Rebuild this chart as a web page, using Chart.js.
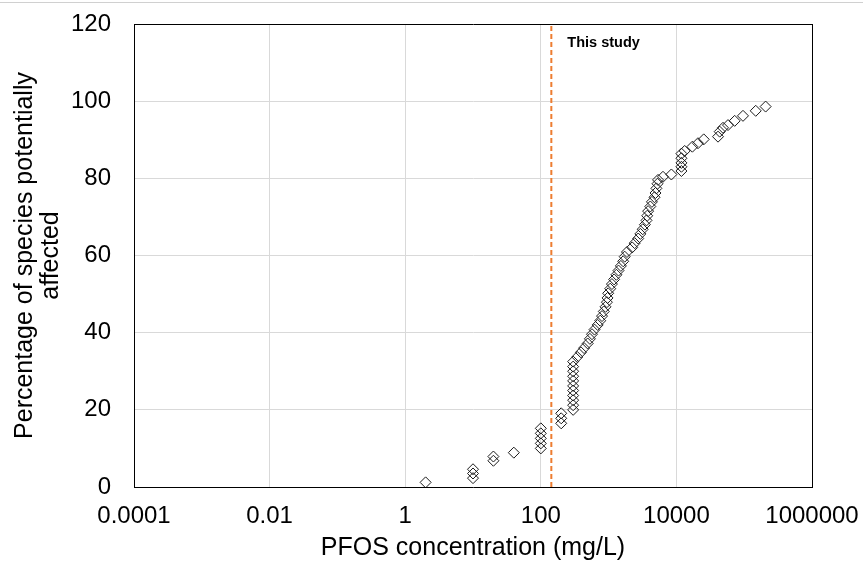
<!DOCTYPE html>
<html>
<head>
<meta charset="utf-8">
<script src="https://cdn.jsdelivr.net/npm/chart.js@4/dist/chart.umd.min.js"></script>
<style>
  html, body { margin: 0; padding: 0; background: #fff; }
  #wrap { position: relative; width: 863px; height: 563px; overflow: hidden; }
  #topline { position: absolute; left: 0; top: 2px; width: 863px; height: 1px; background: #d0d0d0; }
  canvas { position: absolute; left: 0; top: 0; }
</style>
</head>
<body>
<div id="wrap">
  <canvas id="c" width="863" height="563"></canvas>
  <div id="topline"></div>
</div>
<script>
// ---- data ----
const concentrations = [
  2,
  10, 10, 10,
  20, 20,
  40,
  100, 100, 100, 100, 100,
  200, 200, 200,
  300, 300, 300, 300, 300, 300, 300, 300, 300, 300, 300,
  345, 391, 435, 492, 530, 569, 620, 690, 752, 800,
  850, 900, 944, 964, 986, 1057, 1120, 1206, 1303, 1400,
  1518, 1641, 1727, 1866, 2228, 2426, 2733, 2938, 3187, 3430,
  3623, 3710, 3826, 4124, 4356, 4756, 4920, 5070, 5260,
  5360, 6340, 8430, 11860, 11860, 11860, 11860, 11860,
  13250, 17200, 20800, 25300, 41100, 43500, 48700, 57700,
  72400, 96000, 148000, 207000
];
const percentAffected = [
  1.2,
  2.3, 3.5, 4.6,
  6.8, 7.9,
  8.9,
  10.0, 11.3, 12.6, 13.9, 15.2,
  16.5, 17.8, 19.1,
  20.0, 21.2, 22.5, 23.7, 25.0, 26.2, 27.5, 28.7, 30.0, 31.2, 32.5,
  33.7, 34.9, 36.0, 37.2, 38.4, 39.6, 40.8, 42.0, 43.1, 44.3,
  45.5, 46.7, 47.9, 49.0, 50.2, 51.4, 52.6, 53.8, 55.0, 56.1,
  57.3, 58.5, 59.7, 60.9, 62.1, 63.2, 64.4, 65.6, 66.8, 68.0,
  69.1, 70.3, 71.5, 72.7, 73.9, 75.1, 76.2, 77.4, 78.6,
  79.6, 80.4, 81.0, 81.9, 83.0, 84.0, 85.2, 86.4,
  87.1, 88.2, 89.1, 90.1, 90.8, 92.1, 93.1, 93.8,
  94.9, 96.2, 97.5, 98.6
];
const studyConcentration = 143;
const studyLabel = 'This study';
const xTickValues = [0.0001, 0.01, 1, 100, 10000, 1000000];
const xTickLabels = ['0.0001', '0.01', '1', '100', '10000', '1000000'];
const yMin = 0, yMax = 120, yStep = 20;
const xTitle = 'PFOS concentration (mg/L)';
const yTitle = ['Percentage of species potentially', 'affected'];

// ---- build ----
const points = concentrations.map((x, i) => ({ x: x, y: percentAffected[i] }));
const studyLine = [{ x: studyConcentration, y: yMin }, { x: studyConcentration, y: yMax }];

const FONT = "'Liberation Sans', Arial, sans-serif";

const labelPlugin = {
  id: 'studyLabel',
  afterDatasetsDraw(chart) {
    const ctx = chart.ctx;
    const xs = chart.scales.x.getPixelForValue(studyConcentration);
    ctx.save();
    ctx.font = 'bold 14.5px ' + FONT;
    ctx.fillStyle = '#000';
    ctx.textAlign = 'left';
    ctx.textBaseline = 'middle';
    ctx.fillText(studyLabel, xs + 16, chart.chartArea.top + 19);
    ctx.restore();
  }
};

new Chart(document.getElementById('c'), {
  type: 'scatter',
  data: {
    datasets: [
      {
        data: points,
        pointStyle: 'rectRot',
        pointRadius: 5.5,
        pointBorderWidth: 1,
        pointBorderColor: '#1a1a1a',
        pointBackgroundColor: 'rgba(255,255,255,0)',
        showLine: false,
        order: 1
      },
      {
        type: 'line',
        data: studyLine,
        borderColor: '#ED7D31',
        borderWidth: 2,
        borderDash: [5, 3],
        pointRadius: 0,
        fill: false,
        order: 2
      }
    ]
  },
  options: {
    responsive: false,
    animation: false,
    devicePixelRatio: 1,
    layout: { padding: { top: 24, right: 51, left: 0, bottom: 0 } },
    plugins: { legend: { display: false }, tooltip: { enabled: false } },
    scales: {
      x: {
        type: 'logarithmic',
        min: xTickValues[0],
        max: xTickValues[xTickValues.length - 1],
        afterBuildTicks(scale) {
          scale.ticks = xTickValues.map(v => ({ value: v }));
        },
        afterFit(scale) {
          scale.height = 76;
          scale.paddingLeft = 0;
          scale.paddingRight = 0;
        },
        ticks: {
          autoSkip: false,
          maxRotation: 0,
          minRotation: 0,
          padding: 15,
          color: '#000',
          font: { family: FONT, size: 24 },
          callback(value, index) { return xTickLabels[index]; }
        },
        grid: {
          drawTicks: false,
          lineWidth: 1,
          color: (c) => (c.tick && c.tick.value === xTickValues[xTickValues.length - 1]) ? '#000' : '#d9d9d9'
        },
        border: { display: true, color: '#000', width: 1 },
        title: {
          display: true,
          text: xTitle,
          color: '#000',
          font: { family: FONT, size: 25, lineHeight: 1.2 },
          padding: { top: 0, bottom: 0 }
        }
      },
      y: {
        type: 'linear',
        min: yMin,
        max: yMax,
        afterFit(scale) {
          scale.width = 134;
          scale.paddingTop = 0;
          scale.paddingBottom = 0;
        },
        ticks: {
          stepSize: yStep,
          padding: 23,
          color: '#000',
          font: { family: FONT, size: 24 }
        },
        grid: {
          drawTicks: false,
          lineWidth: 1,
          color: (c) => (c.tick && c.tick.value === yMax) ? '#000' : '#d9d9d9'
        },
        border: { display: true, color: '#000', width: 1 },
        title: {
          display: true,
          text: yTitle,
          color: '#000',
          font: { family: FONT, size: 25, lineHeight: 1.04 },
          padding: { top: 12, bottom: 0 }
        }
      }
    }
  },
  plugins: [labelPlugin]
});
</script>
</body>
</html>
